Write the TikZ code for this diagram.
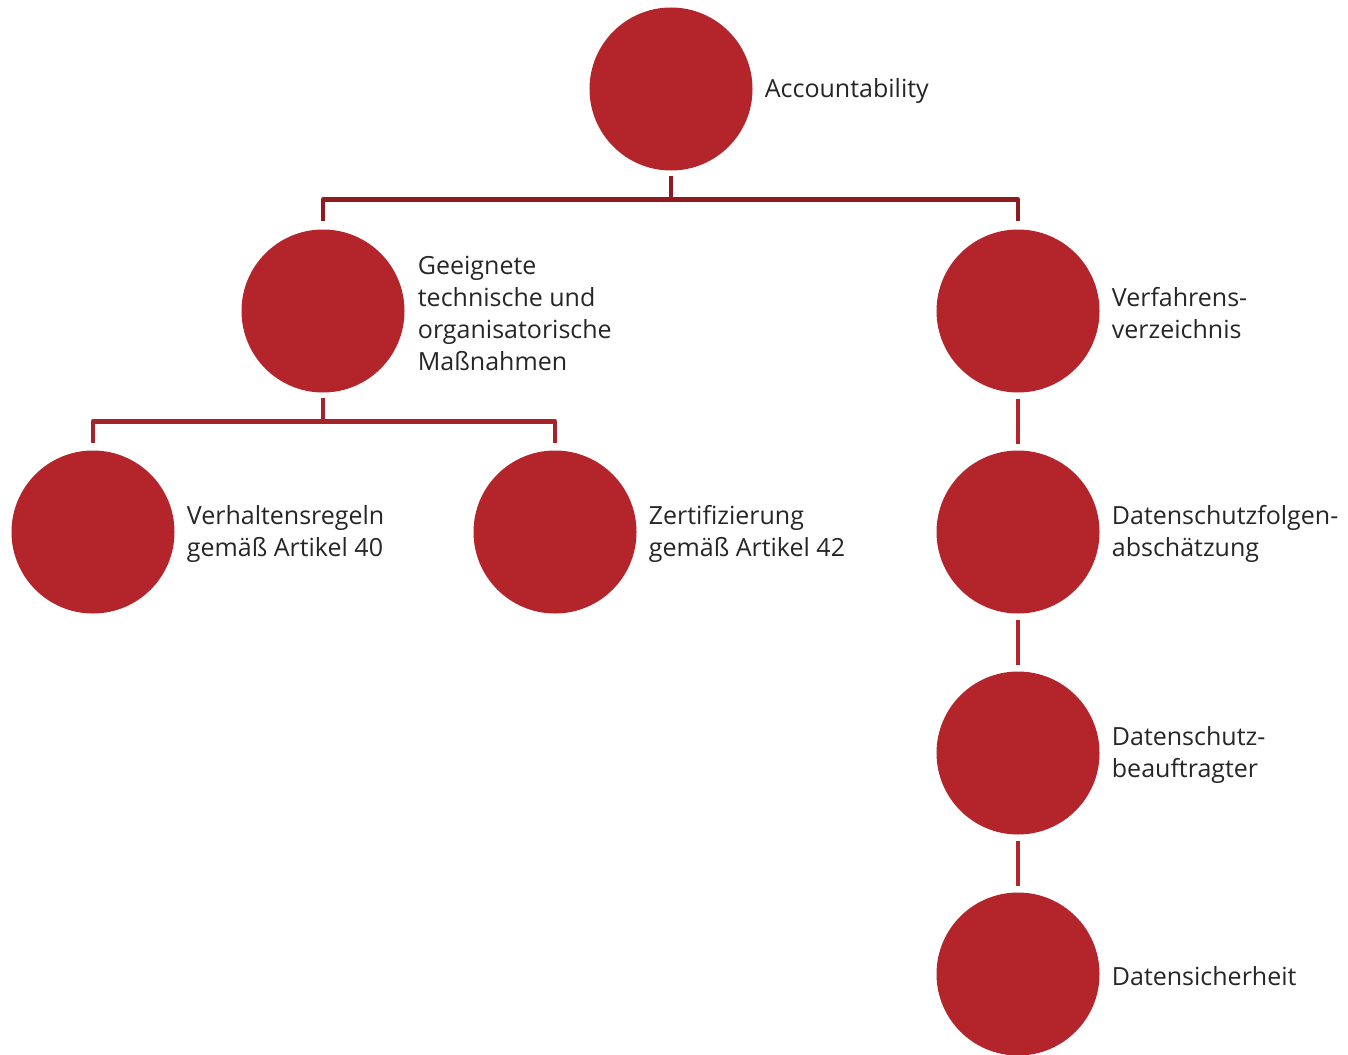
\documentclass[tikz,border=0pt]{standalone}
\usepackage{fontspec}
\setmainfont{Open Sans}
\definecolor{circ}{HTML}{B3242B}
\definecolor{connA}{HTML}{8E1B20}
\definecolor{connB}{HTML}{A52329}
\begin{document}
\begin{tikzpicture}[x=1pt,y=1pt,
  bubble/.style={circle,fill=circ,draw=none,minimum size=163pt,inner sep=0pt},
  lbl/.style={anchor=west,inner sep=0pt,align=left,font=\fontsize{25}{32}\selectfont,text=black!85},
  conn/.style={line width=4.5pt,line join=round}]
\useasboundingbox (0,0) rectangle (1348,-1054);
\node[bubble] (acc) at (671,-89) {};
\node[bubble] (tom) at (323,-311) {};
\node[bubble] (vfv) at (1018,-311) {};
\node[bubble] (vhr) at (93,-532) {};
\node[bubble] (zer) at (555,-532) {};
\node[bubble] (dsf) at (1018,-532) {};
\node[bubble] (dsb) at (1018,-753) {};
\node[bubble] (dsh) at (1018,-974) {};

\node[lbl] (lacc) at ([xshift=12pt,yshift=-2pt]acc.east) {Accountability};
\node[lbl] (ltom) at ([xshift=13pt,yshift=-2pt]tom.east) {Geeignete\\technische und\\organisatorische\\Maßnahmen};
\node[lbl] (lvfv) at ([xshift=12pt,yshift=-2pt]vfv.east) {Verfahrens-\\verzeichnis};
\node[lbl] (lvhr) at ([xshift=12pt,yshift=-2pt]vhr.east) {Verhaltensregeln\\gemäß Artikel 40};
\node[lbl] (lzer) at ([xshift=12pt,yshift=-2pt]zer.east) {Zertifizierung\\gemäß Artikel 42};
\node[lbl] (ldsf) at ([xshift=12pt,yshift=-2pt]dsf.east) {Datenschutzfolgen-\\abschätzung};
\node[lbl] (ldsb) at ([xshift=12pt,yshift=-2pt]dsb.east) {Datenschutz-\\beauftragter};
\node[lbl] (ldsh) at ([xshift=12pt,yshift=-2pt]dsh.east) {Datensicherheit};

\draw[conn,connA] ([yshift=-5pt]acc.south) -- ++(0,-24) coordinate (j1);
\draw[conn,connA] ([yshift=8pt]tom.north) |- (j1) -| ([yshift=8pt]vfv.north);
\draw[conn,connB] ([yshift=-5pt]tom.south) -- ++(0,-24) coordinate (j2);
\draw[conn,connB] ([yshift=7pt]vhr.north) |- (j2) -| ([yshift=7pt]zer.north);
\draw[conn,circ] ([yshift=-6pt]vfv.south) -- ([yshift=6pt]dsf.north);
\draw[conn,circ] ([yshift=-6pt]dsf.south) -- ([yshift=6pt]dsb.north);
\draw[conn,circ] ([yshift=-6pt]dsb.south) -- ([yshift=6pt]dsh.north);
\end{tikzpicture}
\end{document}
